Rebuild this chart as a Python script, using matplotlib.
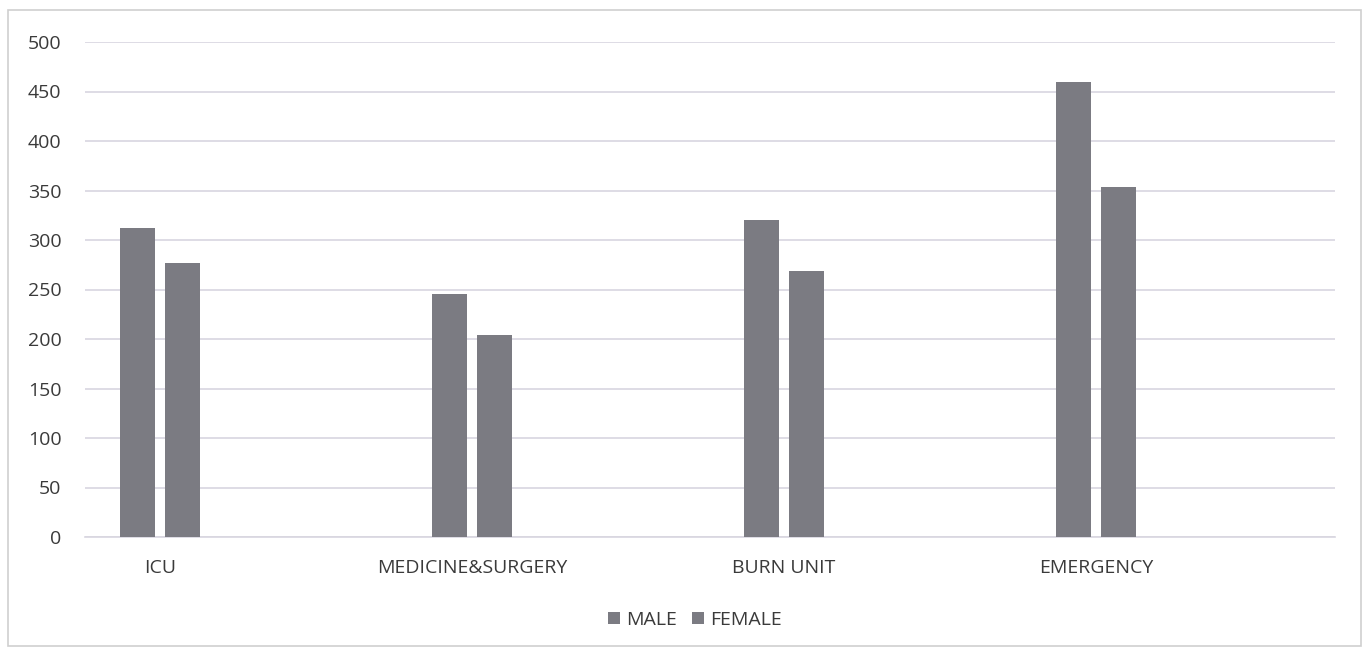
import numpy as np
import matplotlib.pyplot as plt
from matplotlib.patches import Rectangle

plt.rcParams["font.family"] = ["Open Sans", "DejaVu Sans"]

categories = ["ICU", "MEDICINE&SURGERY", "BURN UNIT", "EMERGENCY"]
male = [312, 245, 320, 460]
female = [277, 204, 269, 354]
yticks = [0, 50, 100, 150, 200, 250, 300, 350, 400, 450, 500]

BAR_COLOR = "#7b7b82"
TEXT_COLOR = "#3a3a3a"
GRID_COLOR = "#d8d6e0"


def main():
    fig = plt.figure(figsize=(13.69, 6.53), dpi=100)
    fig.patches.append(Rectangle((0.006, 0.01), 0.988, 0.975, transform=fig.transFigure,
                                 fill=False, edgecolor="#cfcfcf", linewidth=1.2))

    ax = fig.add_axes([85 / 1369, 1 - 537 / 653, 1250 / 1369, 495 / 653])

    x = np.arange(len(categories))
    w = 0.112
    off = 0.072
    ax.bar(x - off, male, width=w, color=BAR_COLOR, label="MALE", zorder=3)
    ax.bar(x + off, female, width=w, color=BAR_COLOR, label="FEMALE", zorder=3)

    ax.set_xlim(-0.24, 3.766)
    ax.set_ylim(0, 500)
    ax.set_yticks(yticks)
    ax.yaxis.grid(True, color=GRID_COLOR, linewidth=1.2, zorder=0)
    ax.set_axisbelow(True)

    ax.set_xticks(x)
    ax.set_xticklabels(categories)
    ax.tick_params(axis="x", length=0, pad=16, labelsize=14, labelcolor=TEXT_COLOR)
    ax.tick_params(axis="y", length=0, pad=17, labelsize=14, labelcolor=TEXT_COLOR)

    for side in ["top", "right", "left"]:
        ax.spines[side].set_visible(False)
    ax.spines["bottom"].set_color(GRID_COLOR)
    ax.spines["bottom"].set_linewidth(1.2)

    fig.legend(loc="center", bbox_to_anchor=(695 / 1369, 1 - 620 / 653), ncol=2,
               frameon=False, fontsize=14, handlelength=0.6, handleheight=0.6,
               handletextpad=0.3, columnspacing=0.8, labelcolor=TEXT_COLOR)

    fig.savefig("out.png", dpi=100)
    plt.close(fig)


if __name__ == "__main__":
    main()
